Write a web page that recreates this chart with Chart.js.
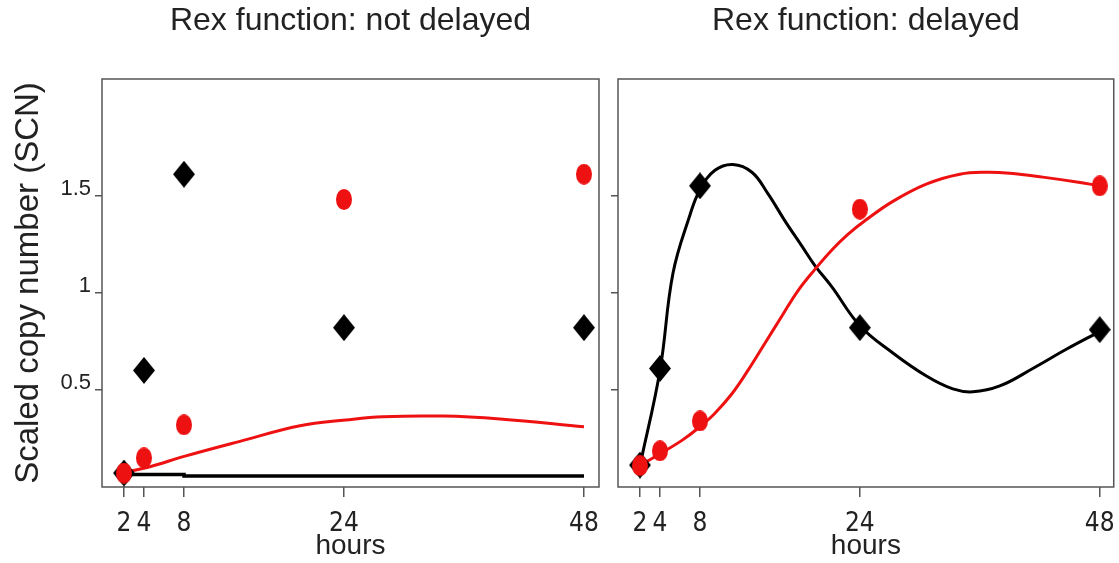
<!DOCTYPE html>
<html>
<head>
<meta charset="utf-8">
<script src="https://cdn.jsdelivr.net/npm/chart.js@4.4.1/dist/chart.umd.min.js"></script>
<style>
  html, body { margin: 0; padding: 0; background: #fff; }
  #wrap { position: relative; width: 1119px; height: 563px; overflow: hidden; }
  #leftChart { position: absolute; left: 0; top: 0; }
  #rightChart { position: absolute; left: 605px; top: 0; }
</style>
</head>
<body>
<div id="wrap">
  <canvas id="leftChart" width="612" height="563"></canvas>
  <canvas id="rightChart" width="522" height="563"></canvas>
</div>
<script>
// measurement times (hours)
const hours = [2, 4, 8, 24, 48];
const xTickValues = [2, 4, 8, 24, 48];
const yTickValues = [0.5, 1, 1.5];

// Rex function: not delayed
const ndBlackPts = [0.072, 0.60, 1.61, 0.82, 0.82];
const ndRedPts = [0.072, 0.15, 0.32, 1.48, 1.61];
const ndRedCurveX = [2, 4.3, 8.2, 13.6, 19.6, 24.2, 27.9, 33.9, 39.6, 48];
const ndRedCurveY = [0.075, 0.10, 0.16, 0.235, 0.315, 0.345, 0.362, 0.365, 0.35, 0.31];
const ndBlackCurveX = [2, 8, 20, 48];
const ndBlackCurveY = [0.074, 0.064, 0.057, 0.057];

// Rex function: delayed
const dBlackPts = [0.113, 0.61, 1.55, 0.82, 0.81];
const dRedPts = [0.11, 0.186, 0.34, 1.43, 1.55];
const dBlackCurveX = [2, 4, 5.3, 7.0, 8.0, 9.5, 11.3, 13.2, 14.8, 16.5, 18.2, 19.5, 21.2, 24, 27.3, 30.7, 33.3, 35.3, 38, 41.3, 44.7, 48];
const dBlackCurveY = [0.11, 0.60, 1.10, 1.40, 1.53, 1.63, 1.66, 1.62, 1.51, 1.37, 1.24, 1.14, 1.03, 0.83, 0.69, 0.57, 0.505, 0.49, 0.52, 0.61, 0.71, 0.80];
const dRedCurveX = [2, 3.8, 6.2, 8, 9.5, 11.2, 12.8, 14.5, 16.2, 17.8, 19.5, 21.2, 22.8, 24.5, 27.3, 30.7, 34, 36.7, 39, 42.3, 45.7, 48];
const dRedCurveY = [0.11, 0.165, 0.24, 0.31, 0.38, 0.48, 0.60, 0.74, 0.88, 1.01, 1.12, 1.22, 1.30, 1.37, 1.47, 1.56, 1.61, 1.62, 1.615, 1.595, 1.57, 1.55];

const RED = "#ee1111";
const BLACK = "#000000";
const FRAME = "#555555";
const FONT = "'Liberation Sans', Arial, Helvetica, sans-serif";
const NARROW = "'Liberation Sans Narrow', 'DejaVu Sans Condensed', Arial, sans-serif";

// marker images
function makeDiamond(w, h, color) {
  const c = document.createElement("canvas");
  c.width = w; c.height = h;
  const ctx = c.getContext("2d");
  ctx.fillStyle = color;
  ctx.beginPath();
  ctx.moveTo(w / 2, 0);
  ctx.lineTo(w, h / 2);
  ctx.lineTo(w / 2, h);
  ctx.lineTo(0, h / 2);
  ctx.closePath();
  ctx.fill();
  return c;
}

function makeEllipse(w, h, color) {
  const c = document.createElement("canvas");
  c.width = w; c.height = h;
  const ctx = c.getContext("2d");
  ctx.fillStyle = color;
  ctx.beginPath();
  ctx.ellipse(w / 2, h / 2, w / 2, h / 2, 0, 0, Math.PI * 2);
  ctx.fill();
  return c;
}

const diamond = makeDiamond(22, 27, BLACK);
const dot = makeEllipse(16, 21, RED);

const toXY = (xs, ys) => xs.map((x, i) => ({ x, y: ys[i] }));

// box around the plot area
const framePlugin = {
  id: "frame",
  beforeDatasetsDraw(chart) {
    const { ctx, chartArea: a } = chart;
    ctx.save();
    ctx.strokeStyle = FRAME;
    ctx.lineWidth = 1.5;
    ctx.strokeRect(a.left, a.top, a.right - a.left, a.bottom - a.top);
    ctx.restore();
  }
};

function buildChart(canvas, opts) {
  return new Chart(canvas, {
    type: "scatter",
    data: {
      datasets: [
        {
          label: "red points",
          data: toXY(hours, opts.redPts),
          pointStyle: dot,
          pointRadius: 10,
          showLine: false
        },
        {
          label: "black points",
          data: toXY(hours, opts.blackPts),
          pointStyle: diamond,
          pointRadius: 12,
          showLine: false
        },
        {
          label: "red curve",
          type: "line",
          data: toXY(opts.redCurveX, opts.redCurveY),
          borderColor: RED,
          borderWidth: 3,
          pointRadius: 0,
          tension: 0.4,
          fill: false
        },
        {
          label: "black curve",
          type: "line",
          data: toXY(opts.blackCurveX, opts.blackCurveY),
          borderColor: BLACK,
          borderWidth: opts.blackWidth,
          pointRadius: 0,
          stepped: opts.blackStepped,
          tension: 0.4,
          fill: false
        }
      ]
    },
    options: {
      responsive: false,
      animation: false,
      layout: { padding: { left: 0, right: opts.padRight, top: 0, bottom: 0 } },
      plugins: {
        legend: { display: false },
        tooltip: { enabled: false },
        title: {
          display: true,
          text: opts.title,
          fullSize: false,
          color: "#222",
          font: { family: FONT, size: 32, weight: "normal", lineHeight: 1.2 },
          padding: { top: 2, bottom: 38.6 }
        }
      },
      scales: {
        x: {
          type: "linear",
          min: -0.2,
          max: opts.xMax,
          afterBuildTicks: (scale) => { scale.ticks = xTickValues.map(v => ({ value: v })); },
          afterFit: (scale) => { scale.height = 76; },
          grid: { drawOnChartArea: false, drawTicks: true, tickLength: 10, color: FRAME, lineWidth: 1.5 },
          border: { display: false },
          ticks: {
            color: "#222",
            padding: 12,
            maxRotation: 0,
            autoSkip: false,
            font: { family: NARROW, size: 26 }
          },
          title: {
            display: true,
            text: "hours",
            color: "#222",
            font: { family: FONT, size: 28, lineHeight: 1.2 },
            padding: { top: 0, bottom: 0 }
          }
        },
        y: {
          type: "linear",
          min: 0,
          max: 2.1,
          afterBuildTicks: (scale) => { scale.ticks = yTickValues.map(v => ({ value: v })); },
          afterFit: (scale) => { scale.width = opts.yWidth; },
          grid: { drawOnChartArea: false, drawTicks: true, tickLength: 7, color: FRAME, lineWidth: 1.5 },
          border: { display: false },
          ticks: {
            display: opts.showYLabels,
            color: "#222",
            padding: 4,
            labelOffset: -7,
            font: { family: FONT, size: 22 },
            callback: (value) => String(value)
          },
          title: {
            display: opts.showYLabels,
            text: "Scaled copy number (SCN)",
            color: "#222",
            font: { family: FONT, size: 33, lineHeight: 1.2 },
            padding: { top: 9, bottom: 0 }
          }
        }
      }
    },
    plugins: [framePlugin]
  });
}

buildChart(document.getElementById("leftChart"), {
  title: "Rex function: not delayed",
  redPts: ndRedPts,
  blackPts: ndBlackPts,
  redCurveX: ndRedCurveX,
  redCurveY: ndRedCurveY,
  blackCurveX: ndBlackCurveX,
  blackCurveY: ndBlackCurveY,
  blackWidth: 3.5,
  blackStepped: "after",
  xMax: 49.5,
  yWidth: 102,
  padRight: 6,
  showYLabels: true
});

buildChart(document.getElementById("rightChart"), {
  title: "Rex function: delayed",
  redPts: dRedPts,
  blackPts: dBlackPts,
  redCurveX: dRedCurveX,
  redCurveY: dRedCurveY,
  blackCurveX: dBlackCurveX,
  blackCurveY: dBlackCurveY,
  blackWidth: 3,
  blackStepped: false,
  xMax: 49.4,
  yWidth: 13,
  padRight: 5,
  showYLabels: false
});
</script>
</body>
</html>
